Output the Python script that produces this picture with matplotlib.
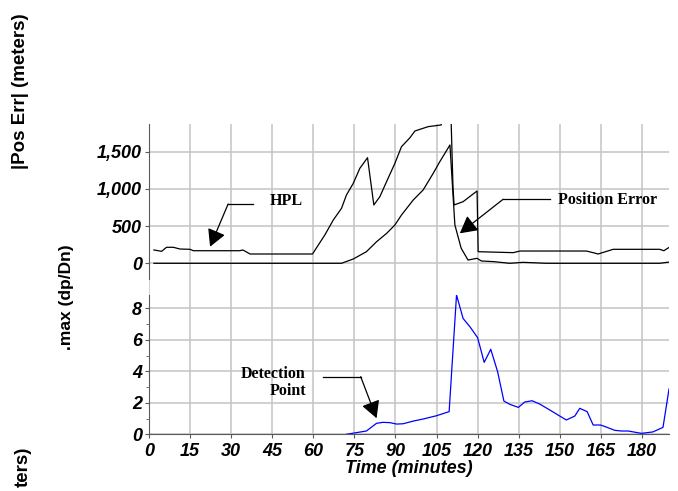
import matplotlib
matplotlib.use("Agg")
import matplotlib.pyplot as plt
from matplotlib.font_manager import FontProperties
from matplotlib.ticker import FuncFormatter, MultipleLocator

# ---- data -------------------------------------------------------------
# Horizontal protection level (meters)
hpl_t = [1.8, 4.6, 6.4, 8.9, 11.3, 15.0, 16.2, 33.1, 34.3, 36.9, 59.7, 64.2,
         67.3, 70.3, 72.1, 74.6, 77.0, 79.8, 82.1, 84.3, 87.3, 89.8, 92.2,
         95.3, 97.1, 101.9, 106.7, 109.8, 111.0, 111.4, 114.7, 119.8, 120.2,
         133.0, 135.5, 159.7, 162.5, 164.0, 169.5, 186.5, 188.0, 190.0]
hpl_v = [179, 161, 215, 215, 192, 188, 169, 169, 179, 125, 125, 380,
         582, 739, 918, 1075, 1277, 1419, 784, 895, 1142, 1344, 1567,
         1688, 1778, 1836, 1859, 2600, 1030, 784, 828, 972, 156,
         143, 165, 165, 140, 125, 188, 188, 169, 215]

# Position error magnitude (meters)
pe_t = [1.8, 70.3, 74.6, 79.4, 83.1, 86.8, 89.8, 92.2, 96.5, 100.1, 103.8,
        106.2, 109.9, 111.7, 114.0, 116.5, 119.8, 121.4, 126.0, 131.7, 136.6,
        140.0, 145.0, 186.5, 190.0]
pe_v = [0, 0, 58, 156, 290, 403, 515, 649, 851, 985, 1210,
        1366, 1590, 515, 202, 44, 67, 31, 22, 0, 13,
        8, 0, 0, 17]

# Test statistic max(dp/Dn)
det_t = [72.1, 79.4, 83.1, 85.5, 88.0, 90.4, 92.8, 96.5, 100.1, 105.0, 109.6,
         112.3, 114.7, 117.2, 120.0, 122.4, 124.8, 127.3, 129.6, 131.8, 134.9,
         137.2, 139.9, 142.7, 146.4, 150.0, 152.4, 155.5, 157.3, 160.0, 162.2,
         164.9, 167.0, 170.1, 172.5, 175.0, 179.8, 184.0, 187.7, 189.9]
det_v = [0.0, 0.21, 0.70, 0.76, 0.74, 0.65, 0.67, 0.84, 0.97, 1.18, 1.44,
         8.85, 7.36, 6.83, 6.14, 4.57, 5.40, 3.98, 2.11, 1.90, 1.71,
         2.05, 2.13, 1.92, 1.54, 1.16, 0.91, 1.16, 1.65, 1.44, 0.59,
         0.59, 0.46, 0.25, 0.21, 0.21, 0.06, 0.15, 0.44, 2.88]

x_ticks = list(range(0, 181, 15))
top_yticks = [0, 500, 1000, 1500]
bot_yticks = [0, 2, 4, 6, 8]

# ---- styling ------------------------------------------------------------
W, H = 678, 491
SANS = "Liberation Sans"
SERIF = "Liberation Serif"
GRID = "#c4c4c4"
SPINE = "#5a5a5a"
TICKFONT = FontProperties(family=SANS, weight="bold", style="italic", size=13)

fig = plt.figure(figsize=(W / 100, H / 100), dpi=100)

def fx(px):
    return px / W

def fy(py):
    return 1 - py / H

left, right = 149, 669.3
ax1 = fig.add_axes([fx(left), fy(295), fx(right - left), (295 - 124) / H])
ax2 = fig.add_axes([fx(left), fy(434.3), fx(right - left), (434.3 - 295) / H])

for ax in (ax1, ax2):
    ax.set_xlim(0, 190)
    ax.set_xticks(x_ticks)
    ax.grid(True, color=GRID, linewidth=1.1)
    ax.set_axisbelow(True)
    for s in ("top", "right"):
        ax.spines[s].set_visible(False)
    ax.spines["left"].set_color(SPINE)
    ax.tick_params(axis="y", direction="out", length=3, color=SPINE, pad=2)
    ax.patch.set_alpha(0)

# upper panel: position error and HPL
ax1.set_ylim(-426, 1872)
ax1.spines["bottom"].set_visible(False)
ax1.spines["left"].set_bounds(-215, 1872)
ax1.set_yticks(top_yticks)
ax1.yaxis.set_major_formatter(FuncFormatter(lambda v, p: f"{int(v):,}"))
ax1.tick_params(axis="x", length=0, labelbottom=False)
ax1.plot(hpl_t, hpl_v, color="black", linewidth=0.9)
ax1.plot(pe_t, pe_v, color="black", linewidth=0.9)
for lab in ax1.get_yticklabels():
    lab.set_fontproperties(TICKFONT)

# lower panel: detection statistic
ax2.set_ylim(0, 8.85)
ax2.spines["bottom"].set_color(SPINE)
ax2.set_yticks(bot_yticks)
ax2.yaxis.set_minor_locator(MultipleLocator(1))
ax2.tick_params(axis="y", which="minor", length=2, color=SPINE)
ax2.tick_params(axis="x", direction="out", length=3, color=SPINE, pad=3)
ax2.plot(det_t, det_v, color="#0000ff", linewidth=0.9)
for lab in ax2.get_yticklabels() + ax2.get_xticklabels():
    lab.set_fontproperties(TICKFONT)
ax2.set_xlabel("Time (minutes)", fontfamily=SANS, fontweight="bold",
               fontstyle="italic", fontsize=13, labelpad=0)

# axis titles on the left
fig.text(fx(21), fy(91), "|Pos Err| (meters)", rotation=90, ha="center",
         va="center", fontfamily=SANS, fontweight="bold", fontsize=13.5)
fig.text(fx(66), fy(297), ".max (dp/Dn)", rotation=90, ha="center",
         va="center", fontfamily=SANS, fontweight="bold", fontsize=12.5)
fig.text(fx(23), fy(447), "ters)", rotation=90, ha="center",
         va="top", fontfamily=SANS, fontweight="bold", fontsize=13.5)

# callouts
ANN = dict(fontfamily=SERIF, fontweight="bold", fontsize=11.5)
arrow = dict(arrowstyle="-|>,head_length=0.55,head_width=0.3", color="black",
             lw=0.9, mutation_scale=19, shrinkA=0, shrinkB=0)

ax1.text(50, 841, "HPL", ha="center", va="center", **ANN)
ax1.plot([28.9, 37.8], [797, 797], color="black", linewidth=0.9)
ax1.annotate("", xy=(22.3, 223), xytext=(28.9, 797), arrowprops=arrow)

ax1.text(167.3, 851, "Position Error", ha="center", va="center", **ANN)
ax1.plot([129.3, 146.4], [860, 860], color="black", linewidth=0.9)
ax1.annotate("", xy=(113.5, 403), xytext=(129.3, 860), arrowprops=arrow)

ax2.text(57.3, 3.28, "Detection\nPoint", ha="right", va="center",
         multialignment="right", linespacing=1.1, **ANN)
ax2.plot([63.6, 77.3], [3.66, 3.66], color="black", linewidth=0.9)
ax2.annotate("", xy=(83.1, 1.02), xytext=(77.3, 3.66), arrowprops=arrow)

fig.savefig("out.png", dpi=100)
